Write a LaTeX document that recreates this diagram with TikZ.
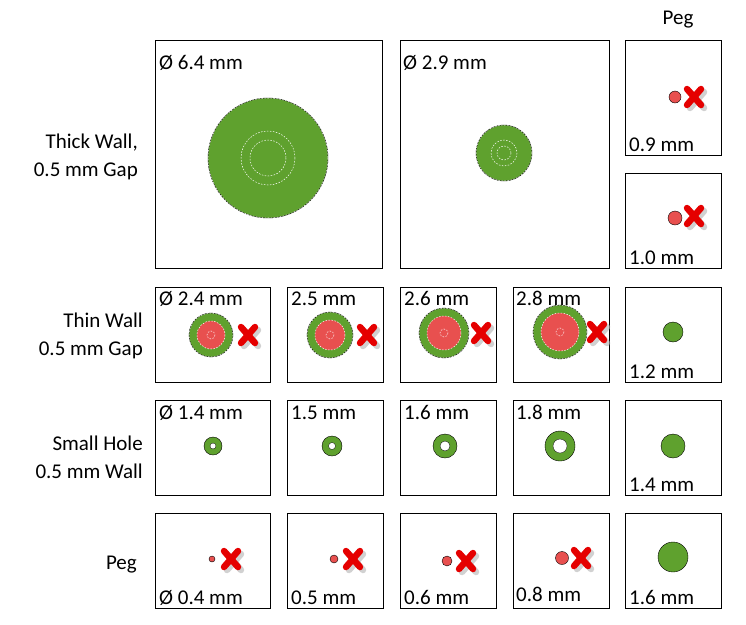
\documentclass[tikz,border=0pt]{standalone}
\usepackage{fontspec}
\setmainfont{Carlito}
\begin{document}
\begin{tikzpicture}[x=1pt,y=-1pt,
  box/.style={draw=black,line width=0.8pt},
  lab/.style={font=\fontsize{21}{24}\selectfont,inner sep=0pt,anchor=base west},
  rowlab/.style={font=\fontsize{21}{28}\selectfont,align=right,inner sep=0pt,anchor=east},
  ring/.style={draw=white,dash pattern=on 1.5pt off 1.5pt,line width=0.5pt},
  xmark/.pic={
    \draw[gray!60,line width=6.5pt,line cap=round,opacity=0.6] (-7,-8)++(3,3) -- ++(14,16) (7,-8)++(3,3) -- ++(-14,16);
    \draw[red!90!black,line width=6.5pt,line cap=round] (-7,-8) -- (7,8) (7,-8) -- (-7,8);
  }]
\definecolor{gc}{HTML}{5FA12E}
\definecolor{rc}{HTML}{E8504F}
\tikzset{grn/.style={fill=gc,draw=black,line width=0.4pt},redd/.style={fill=rc,draw=black,line width=0.4pt}}
\useasboundingbox (0,0) rectangle (746,624);
% header
\node[rowlab,anchor=center] (hpeg) at (678,20) {Peg};
% row labels
\node[rowlab] (r1) at (138,157) {Thick Wall,\\0.5 mm Gap};
\node[rowlab] (r2) at (143,336) {Thin Wall\\0.5 mm Gap};
\node[rowlab] (r3) at (143,457) {Small Hole\\0.5 mm Wall};
\node[rowlab] (r4) at (137,565) {Peg};
% boxes
\draw[box] (155,40) rectangle (382,268);
\draw[box] (400,40) rectangle (609,268);
\draw[box] (625,40) rectangle (721,155);
\draw[box] (625,173) rectangle (721,268);
\foreach \y in {287,400,513}{
  \foreach \x/\w in {155/115,287/96,400/96,513/96,625/96}{
    \draw[box] (\x,\y) rectangle ++(\w,95);
  }
}
% big circles
\fill[grn] (268,158) circle (60);
\draw[ring] (268,158) circle (27) (268,158) circle (18);
\draw[ring] (268,158) circle (60);
\fill[grn] (504,153) circle (28);
\draw[ring] (504,153) circle (13) (504,153) circle (7) (504,153) circle (28);
\node[lab] (l1) at (159,69) {Ø 6.4 mm};
\node[lab] (l2) at (403,69) {Ø 2.9 mm};
% peg column
\fill[redd] (675,97) circle (6);
\pic at (694,97) {xmark};
\node[lab] (p1) at (629,151) {0.9 mm};
\fill[redd] (675,218) circle (7);
\pic at (694,216) {xmark};
\node[lab] (p2) at (629,264) {1.0 mm};
\fill[grn] (673,332) circle (10);
\node[lab] (p3) at (629,378) {1.2 mm};
\fill[grn] (673,446) circle (12);
\node[lab] (p4) at (629,491) {1.4 mm};
\fill[grn] (673,557) circle (15);
\node[lab] (p5) at (629,604) {1.6 mm};
% thin wall row
\foreach \cx/\cy/\R in {211/335/22,330/335/23,444/333/25,560/332/27}{
  \fill[grn] (\cx,\cy) circle (\R);
  \draw[ring] (\cx,\cy) circle (\R);
  \fill[rc] (\cx,\cy) circle (\R-8);
  \draw[ring] (\cx,\cy) circle (\R-8) (\cx,\cy) circle (4);
  \pic at (\cx+37,\cy) {xmark};
}
\node[lab] (t1) at (159,305) {Ø 2.4 mm};
\node[lab] (t2) at (291,305) {2.5 mm};
\node[lab] (t3) at (404,305) {2.6 mm};
\node[lab] (t4) at (516,305) {2.8 mm};
% small hole row
\foreach \cx/\R/\h in {213/9/3,332/10/3.5,445/12/5,560/15/7}{
  \fill[grn] (\cx,446) circle (\R);
  \fill[white,draw=black,line width=0.3pt] (\cx,446) circle (\h);
}
\node[lab] (s1) at (159,419) {Ø 1.4 mm};
\node[lab] (s2) at (291,419) {1.5 mm};
\node[lab] (s3) at (404,419) {1.6 mm};
\node[lab] (s4) at (516,419) {1.8 mm};
% peg row
\foreach \cx/\cy/\R in {212/559/3,334/559/4,447/561/5,562/558/6.5}{
  \fill[redd] (\cx,\cy) circle (\R);
  \pic at (\cx+19,\cy) {xmark};
}
\node[lab] (g1) at (159,604) {Ø 0.4 mm};
\node[lab] (g2) at (291,604) {0.5 mm};
\node[lab] (g3) at (404,604) {0.6 mm};
\node[lab] (g4) at (516,601) {0.8 mm};
\end{tikzpicture}
\end{document}
